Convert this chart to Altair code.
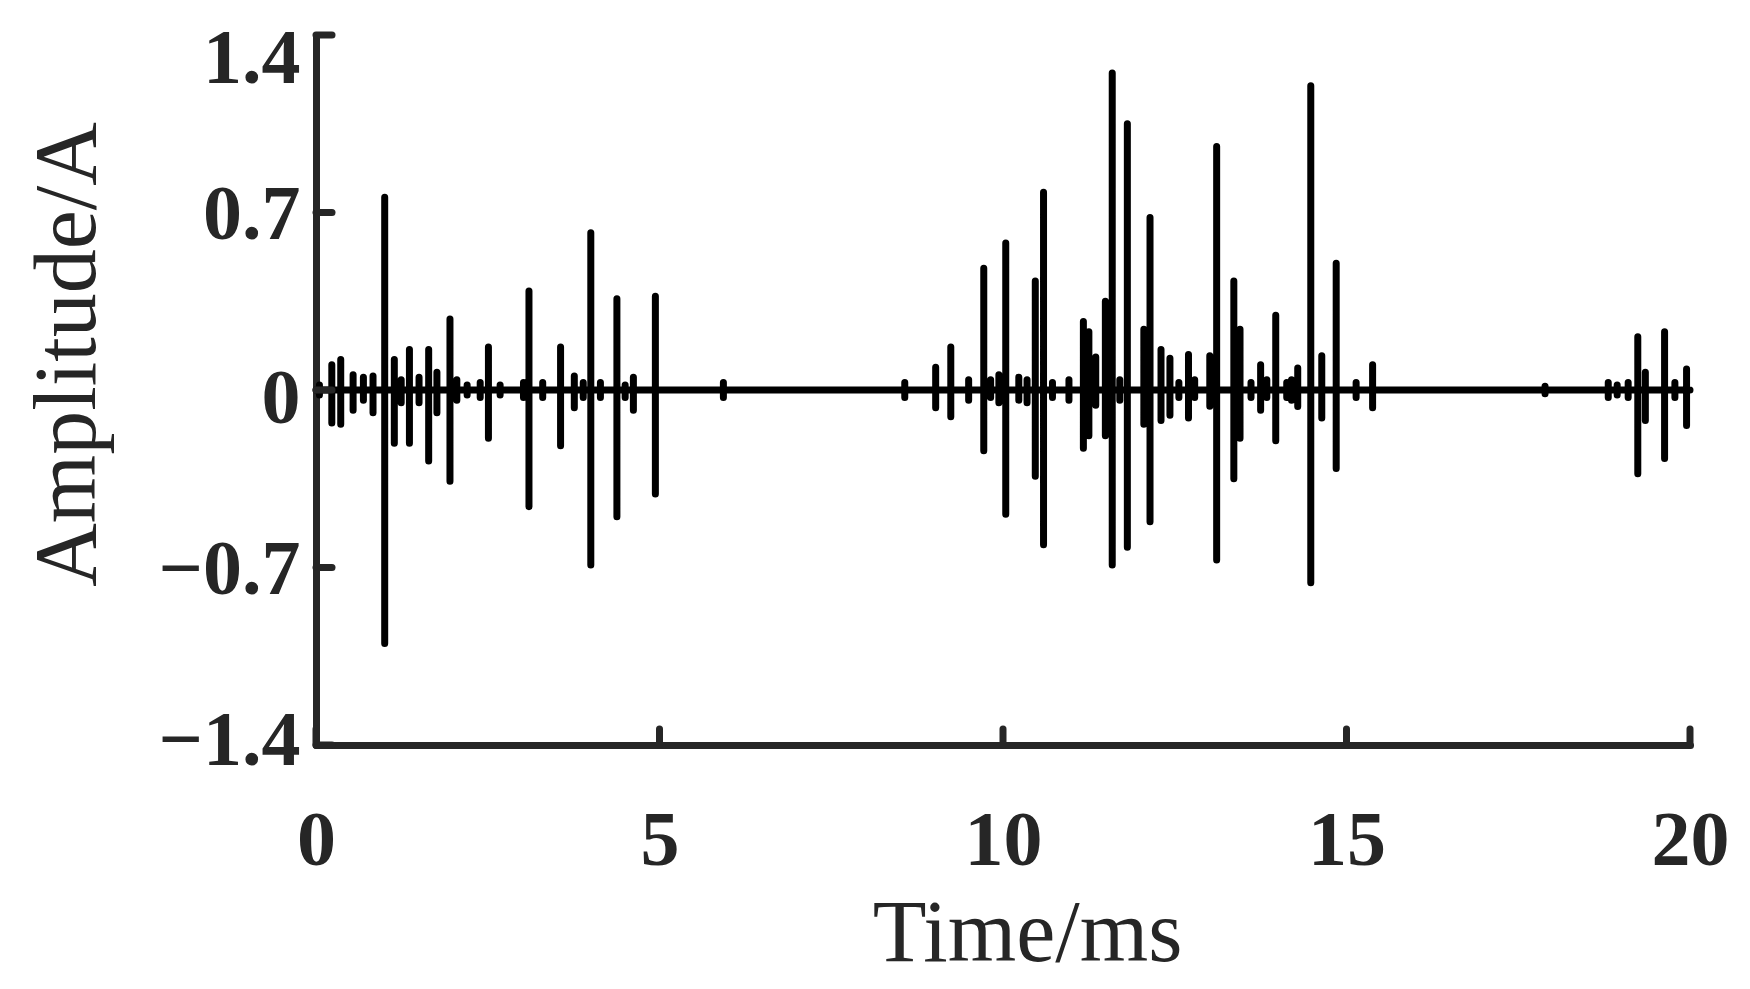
import altair as alt
import pandas as pd

# ---- data (time in ms, amplitude in A) ----
spike_t = [0.05, 0.23, 0.36, 0.54, 0.69, 0.83, 1.00, 1.14, 1.24, 1.36, 1.50, 1.64, 1.76,
           1.95, 2.05, 2.20, 2.39, 2.51, 2.68, 3.02, 3.10, 3.30, 3.56, 3.76, 3.89, 4.00,
           4.14, 4.38, 4.50, 4.62, 4.94, 5.93,
           8.57, 9.02, 9.24, 9.50, 9.72, 9.82, 9.94, 10.04, 10.23, 10.35, 10.47, 10.59,
           10.72, 10.96, 11.17, 11.25, 11.35, 11.49, 11.59, 11.70, 11.81, 12.05, 12.14,
           12.30, 12.43, 12.56, 12.70, 12.79, 13.01, 13.11, 13.36, 13.45, 13.61, 13.75,
           13.84, 13.97, 14.13, 14.20, 14.29, 14.48, 14.64, 14.85, 15.14, 15.38,
           17.89, 18.81, 18.94, 19.10, 19.24, 19.35, 19.63, 19.78, 19.95]
spike_hi = [0.02, 0.10, 0.12, 0.06, 0.05, 0.055, 0.76, 0.12, 0.04, 0.16, 0.05, 0.16, 0.07,
            0.28, 0.04, 0.02, 0.03, 0.17, 0.02, 0.03, 0.39, 0.03, 0.17, 0.055, 0.03, 0.62,
            0.03, 0.36, 0.02, 0.05, 0.37, 0.03,
            0.03, 0.09, 0.17, 0.04, 0.48, 0.04, 0.06, 0.58, 0.05, 0.04, 0.43, 0.78,
            0.03, 0.04, 0.27, 0.23, 0.13, 0.35, 1.25, 0.04, 1.05, 0.24, 0.68,
            0.16, 0.125, 0.03, 0.14, 0.04, 0.135, 0.96, 0.43, 0.24, 0.03, 0.10,
            0.04, 0.295, 0.03, 0.04, 0.087, 1.20, 0.135, 0.50, 0.03, 0.10,
            0.015, 0.03, 0.02, 0.03, 0.21, 0.07, 0.23, 0.03, 0.083]
spike_lo = [-0.02, -0.13, -0.135, -0.08, -0.04, -0.09, -1.00, -0.21, -0.05, -0.21, -0.05, -0.28, -0.09,
            -0.36, -0.04, -0.02, -0.03, -0.19, -0.02, -0.03, -0.46, -0.03, -0.22, -0.07, -0.03, -0.69,
            -0.03, -0.50, -0.03, -0.08, -0.41, -0.03,
            -0.03, -0.07, -0.105, -0.04, -0.24, -0.03, -0.05, -0.49, -0.04, -0.05, -0.34, -0.61,
            -0.03, -0.04, -0.23, -0.18, -0.06, -0.18, -0.69, -0.04, -0.62, -0.135, -0.52,
            -0.12, -0.10, -0.03, -0.11, -0.03, -0.064, -0.67, -0.35, -0.19, -0.03, -0.08,
            -0.03, -0.20, -0.03, -0.04, -0.065, -0.76, -0.11, -0.31, -0.03, -0.07,
            -0.015, -0.03, -0.02, -0.03, -0.33, -0.12, -0.27, -0.03, -0.14]

t_range = [0, 20]
x_ticks = [0, 5, 10, 15, 20]
y_ticks = [-1.4, -0.7, 0, 0.7, 1.4]

# waveform table: each oscillation burst goes 0 -> peak -> trough -> 0 at its time
rows = [{"t": t_range[0], "a": 0.0}]
for t, hi, lo in zip(spike_t, spike_hi, spike_lo):
    for a in (0.0, hi, lo, 0.0):
        rows.append({"t": t, "a": a})
rows.append({"t": t_range[1], "a": 0.0})
wave = pd.DataFrame(rows)
wave["i"] = range(len(wave))

W, H = 1374, 710
AX = "#262626"
FONT = "Liberation Serif"

xscale = alt.Scale(domain=t_range, nice=False, zero=False)
yscale = alt.Scale(domain=[y_ticks[0], y_ticks[-1]], nice=False, zero=False)

y_label_offset = {
    "condition": [
        {"test": "datum.value > 1.3", "value": 24},
        {"test": "datum.value == 0", "value": 9},
        {"test": "datum.value < -1.3", "value": -4},
    ],
    "value": 3,
}

line = alt.Chart(wave).mark_line(
    color="black", strokeWidth=7, strokeCap="round", strokeJoin="round"
).encode(
    x=alt.X("t:Q", scale=xscale, axis=alt.Axis(
        values=x_ticks, title="Time/ms", labelPadding=119, labelBaseline="alphabetic",
        labelFlush=False, labelExpr="format(datum.value, 'd')",
        titleX=711, titleY=215, titleBaseline="alphabetic", titleAlign="center")),
    y=alt.Y("a:Q", scale=yscale, axis=alt.Axis(
        values=y_ticks, title="Amplitude/A", labelPadding=16, labelAlign="right",
        labelBaseline="middle", labelOffset=y_label_offset, labelFlush=False,
        labelExpr="datum.value == 0 ? '0' : format(datum.value, '.1f')",
        titleX=-222, titleY=319, titleAngle=270, titleBaseline="alphabetic",
        titleAlign="center")),
    order="i:Q",
)

yt = alt.Chart(pd.DataFrame({"a": y_ticks})).mark_rule(
    color=AX, strokeWidth=7, strokeCap="round"
).encode(y=alt.Y("a:Q", scale=yscale), x=alt.value(0), x2=alt.value(16))

xt = alt.Chart(pd.DataFrame({"t": x_ticks})).mark_rule(
    color=AX, strokeWidth=7, strokeCap="round"
).encode(x=alt.X("t:Q", scale=xscale), y=alt.value(H), y2=alt.value(H - 16))

chart = alt.layer(line, yt, xt).properties(
    width=W, height=H,
    autosize=alt.AutoSizeParams(type="none"),
    padding={"left": 308, "top": 27, "right": 40, "bottom": 244},
    background="white",
).configure_view(stroke=None).configure_axis(
    grid=False, ticks=False, tickSize=0,
    domainColor=AX, domainWidth=7, domainCap="round",
    labelFont=FONT, labelFontWeight="bold", labelFontSize=78, labelColor=AX,
    titleFont=FONT, titleFontWeight="normal", titleFontSize=88, titleColor=AX,
)

chart.save("out.html", embed_options={"renderer": "svg", "actions": False})
